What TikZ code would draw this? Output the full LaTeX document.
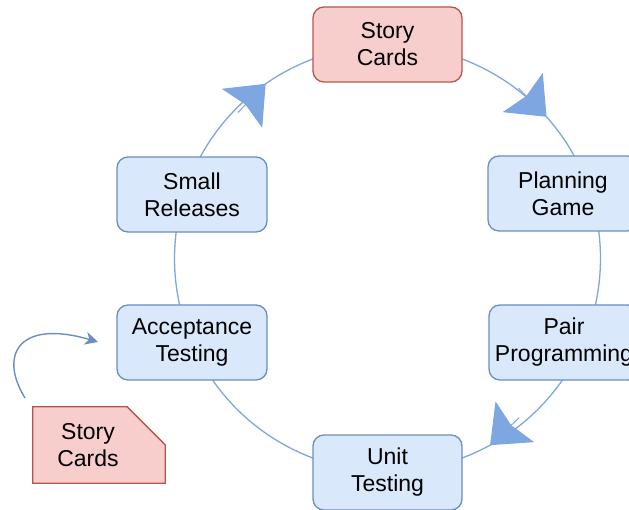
\documentclass[tikz,border=0pt]{standalone}
\usepackage{fontspec}
\setmainfont{Liberation Sans}
\usetikzlibrary{arrows.meta,calc}

\definecolor{phasefill}{HTML}{DAE8FC}
\definecolor{phaseline}{HTML}{6C8EBF}
\definecolor{cardfill}{HTML}{F8CECC}
\definecolor{cardline}{HTML}{B85450}
\definecolor{ringblue}{HTML}{7EA6E0}

\begin{document}
\begin{tikzpicture}[x=1pt,y=1pt,
  label font/.style={font=\fontsize{23}{27}\selectfont, text=black},
  phase/.style={label font, draw=phaseline, fill=phasefill, line width=1.3pt,
    rounded corners=11pt, minimum width=150pt, minimum height=75pt,
    inner sep=0pt, align=center},
  storybox/.style={phase, draw=cardline, fill=cardfill, minimum width=149pt},
  ring/.style={draw=ringblue, line width=1.3pt},
  bighead/.style={draw=ringblue, line width=1pt,
    -{Stealth[length=34pt, width=56pt, inset=5pt]}},
  cardshape/.style={draw=cardline, fill=cardfill, line width=1.3pt},
  feed/.style={draw=phaseline, line width=1.4pt,
    -{Stealth[length=13pt, width=13pt, inset=4pt]}}
]
\useasboundingbox (0,0) rectangle (629,509);

% centre and radius of the iteration cycle
\coordinate (C) at (387.5,250.5);
\def\R{213}

% ring segments, clockwise from the story cards
\draw[ring] ($(C)+(90:\R)$)     arc[start angle=90,     end angle=20.3,   radius=\R];
\draw[ring] ($(C)+(20.3:\R)$)   arc[start angle=20.3,   end angle=-25.6,  radius=\R];
\draw[ring] ($(C)+(-25.6:\R)$)  arc[start angle=-25.6,  end angle=-90,    radius=\R];
\draw[ring] ($(C)+(-90:\R)$)    arc[start angle=-90,    end angle=-156.7, radius=\R];
\draw[ring] ($(C)+(203.3:\R)$)  arc[start angle=203.3,  end angle=161.9,  radius=\R];
\draw[ring] ($(C)+(161.9:\R)$)  arc[start angle=161.9,  end angle=90,     radius=\R];

% phases of the cycle
\node[storybox] (story)  at (387.5,464.5) {Story\\Cards};
\node[phase]    (plan)   at (563,315.5)   {Planning\\Game};
\node[phase]    (pair)   at (564,166.5)   {Pair\\Programming};
\node[phase,minimum width=149pt] (unit) at (387.5,36.5) {Unit\\Testing};
\node[phase]    (accept) at (192,166.5)   {Acceptance\\Testing};
\node[phase]    (small)  at (192,314.5)   {Small\\Releases};

% arrowheads on the ring
\coordinate (tipA) at ($(C)+(124.9:\R)$);
\coordinate (tipB) at ($(C)+(41.7:\R)$);
\coordinate (tipC) at ($(C)+(-61.2:\R)$);
\draw[bighead] ($(tipA)+(226:40)$) -- (tipA);
\draw[bighead] ($(tipB)+(134.4:40)$) -- (tipB);
\draw[bighead] ($(tipC)+(43.4:40)$) -- (tipC);

% incoming story card with a cut corner
\node[minimum width=132pt, minimum height=76pt, inner sep=0pt] (card) at (99,64) {};
\draw[cardshape] (card.south west) -- (card.north west)
  -- ([xshift=-38pt]card.north east) -- ([yshift=-38pt]card.north east)
  -- (card.south east) -- cycle;
\node[label font, align=center] (cardtext) at ([xshift=-11pt]card.center) {Story\\Cards};

% card fed into acceptance testing
\coordinate (feedstart) at (25,111);
\coordinate (feedend) at (98,167);
\draw[feed] (feedstart) .. controls (-2,155) and (20,190) .. (feedend);
\end{tikzpicture}
\end{document}
